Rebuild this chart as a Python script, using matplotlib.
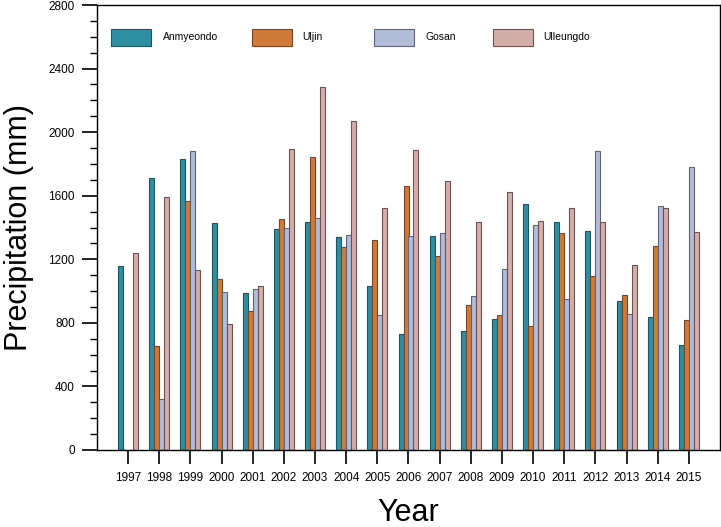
import matplotlib.pyplot as plt
from matplotlib.patches import Rectangle
from matplotlib.ticker import MultipleLocator
import numpy as np

plt.rcParams["font.family"] = ["Liberation Sans", "DejaVu Sans"]

# 年份与各站降水量 (mm)
years = np.arange(1997, 2016)
stations = ["Anmyeondo", "Uljin", "Gosan", "Ulleungdo"]
anmyeondo = [1158, 1713, 1829, 1426, 988, 1391, 1435, 1342, 1032, 728,
             1346, 749, 822, 1548, 1435, 1376, 938, 837, 661]
uljin = [0, 656, 1567, 1074, 877, 1453, 1844, 1275, 1323, 1661,
         1221, 914, 849, 780, 1365, 1097, 973, 1282, 818]
gosan = [0, 321, 1881, 992, 1011, 1397, 1458, 1351, 849, 1345,
         1365, 971, 1137, 1416, 950, 1879, 856, 1535, 1779]
ulleungdo = [1241, 1592, 1133, 793, 1032, 1896, 2282, 2070, 1523, 1888,
             1693, 1437, 1623, 1441, 1523, 1435, 1164, 1523, 1372]
series = [anmyeondo, uljin, gosan, ulleungdo]

colors = ["#2f8fa2", "#d07a3a", "#b1bcd9", "#d3aeaa"]
edges = ["#1c5560", "#7a4420", "#5f6478", "#6e5250"]

fig = plt.figure(figsize=(7.21, 5.27), dpi=100)
ax = fig.add_axes([97 / 721, 1 - 450 / 527, 623 / 721, 445 / 527])

w = 0.16
for i, (vals, c, ec) in enumerate(zip(series, colors, edges)):
    ax.bar(years + (i - 1.5) * w, vals, width=w, color=c, edgecolor=ec, linewidth=0.8)

ax.set_xlim(1996, 2016)
ax.set_ylim(0, 2800)
ax.set_xticks(years)
ax.set_xticklabels([str(y) for y in years], fontsize=8.5)
ax.yaxis.set_major_locator(MultipleLocator(400))
ax.yaxis.set_minor_locator(MultipleLocator(100))
ax.tick_params(axis="y", which="major", direction="out", length=11, width=1.2, labelsize=8.5, pad=5)
ax.tick_params(axis="y", which="minor", direction="out", length=5, width=1)
ax.tick_params(axis="x", direction="out", length=10, width=1.2, pad=6)
for s in ax.spines.values():
    s.set_linewidth(1)

ax.set_ylabel("Precipitation (mm)", fontsize=22, labelpad=10)
ax.set_xlabel("Year", fontsize=22, labelpad=10)

# 手工图例
box_x = [0.0225, 0.249, 0.445, 0.636]
lab_x = [0.106, 0.329, 0.528, 0.717]
for bx, lx, name, c, ec in zip(box_x, lab_x, stations, colors, edges):
    ax.add_patch(Rectangle((bx, 0.908), 0.064, 0.038, transform=ax.transAxes,
                           facecolor=c, edgecolor=ec, linewidth=0.8))
    ax.text(lx, 0.927, name, transform=ax.transAxes, fontsize=7.5, va="center", ha="left")

fig.savefig("out.png", dpi=100)
